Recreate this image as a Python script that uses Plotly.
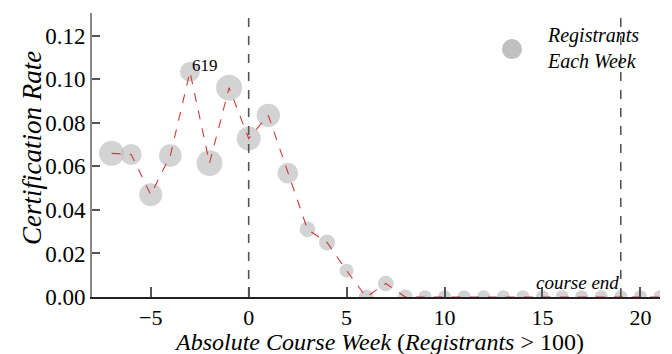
import plotly.graph_objects as go

weeks = list(range(-7, 22))
cert_rate = [0.066, 0.0655, 0.047, 0.065, 0.1035, 0.0615, 0.0962, 0.0728, 0.0835,
             0.0569, 0.0311, 0.0251, 0.0121, 0.0, 0.0062,
             0, 0, 0, 0, 0, 0, 0, 0, 0, 0, 0, 0, 0, 0]
registrants = [967, 682, 819, 797, 619, 1022, 1046, 891, 840,
               663, 381, 396, 303, 348, 381,
               348, 275, 275, 275, 275, 275, 275, 275, 275, 275, 275, 275, 275, 275]
label_week = -3
label_text = "619"
course_start = 0
course_end = 19
x_ticks = [-5, 0, 5, 10, 15, 20]
y_ticks = [0.00, 0.02, 0.04, 0.06, 0.08, 0.10, 0.12]

FONT = "Liberation Serif"
ref_reg = 619
ref_diam = 20
sizeref = 2 * ref_reg / ref_diam ** 2

fig = go.Figure()
fig.add_trace(go.Scatter(
    x=weeks, y=cert_rate, mode="markers",
    marker=dict(size=registrants, sizemode="area", sizeref=sizeref,
                color="#c0c0c0", line=dict(width=0)),
    showlegend=False, cliponaxis=True,
))
fig.add_trace(go.Scatter(
    x=weeks, y=cert_rate, mode="lines",
    line=dict(color="#d0393b", width=1.1, dash="dash"),
    showlegend=False, cliponaxis=True,
))

fig.add_shape(type="line", x0=course_start, x1=course_start, y0=0, y1=0.13,
              xref="x", yref="y", line=dict(color="#555555", width=1.6, dash="dash"))
fig.add_shape(type="line", x0=course_end, x1=course_end, y0=0, y1=0.1285,
              xref="x", yref="y", line=dict(color="#222222", width=1.2, dash="dash"))

i = weeks.index(label_week)
fig.add_annotation(x=label_week, y=cert_rate[i], text=label_text, showarrow=False,
                   xanchor="left", yanchor="bottom", xshift=0, yshift=-5,
                   font=dict(family=FONT, size=17, color="black"))
fig.add_annotation(x=course_end, y=0, text="<i>course end</i>", showarrow=False,
                   xanchor="right", yanchor="bottom", yshift=2,
                   font=dict(family=FONT, size=19, color="black"))

# legend
fig.add_shape(type="circle", xref="paper", yref="paper",
              x0=0.7394 - 0.0176, x1=0.7394 + 0.0176,
              y0=0.873 - 0.0352, y1=0.873 + 0.0352,
              fillcolor="#c0c0c0", line=dict(width=0))
fig.add_annotation(xref="paper", yref="paper", x=0.7975, y=0.877,
                   text="<i>Registrants</i><br><i>Each Week</i>", showarrow=False,
                   xanchor="left", yanchor="middle", align="left",
                   font=dict(family=FONT, size=20, color="black"))

# axis titles
fig.add_annotation(xref="paper", yref="paper", x=0.505, y=-0.16,
                   text="<i>Absolute Course Week</i> (<i>Registrants</i> > 100)",
                   showarrow=False, xanchor="center", yanchor="middle",
                   font=dict(family=FONT, size=24, color="black"))
fig.add_annotation(xref="paper", yref="paper", x=-0.1056, y=0.525,
                   text="<i>Certification Rate</i>", textangle=-90,
                   showarrow=False, xanchor="center", yanchor="middle",
                   font=dict(family=FONT, size=27, color="black"))

# page has an 8px body margin: shift the figure frame accordingly
fig.update_layout(
    width=664, height=346,
    margin=dict(l=84, r=12, t=5, b=57),
    plot_bgcolor="white", paper_bgcolor="white",
    font=dict(family=FONT, size=23, color="black"),
)
fig.update_xaxes(range=[-8, 21], tickvals=x_ticks, ticks="inside", ticklen=10,
                 tickcolor="#555555", tickwidth=1.5, showgrid=False, zeroline=False,
                 showline=True, linecolor="#222222", linewidth=2, automargin=False,
                 tickfont=dict(family=FONT, size=22, color="black"))
fig.update_yaxes(range=[0, 0.1305], tickvals=y_ticks, tickformat=".2f",
                 ticks="inside", ticklen=8, tickcolor="#555555", tickwidth=1.5,
                 showgrid=False, zeroline=False, automargin=False,
                 showline=True, linecolor="#888888", linewidth=2,
                 tickfont=dict(family=FONT, size=23, color="black"))

fig.write_html("out.html")
